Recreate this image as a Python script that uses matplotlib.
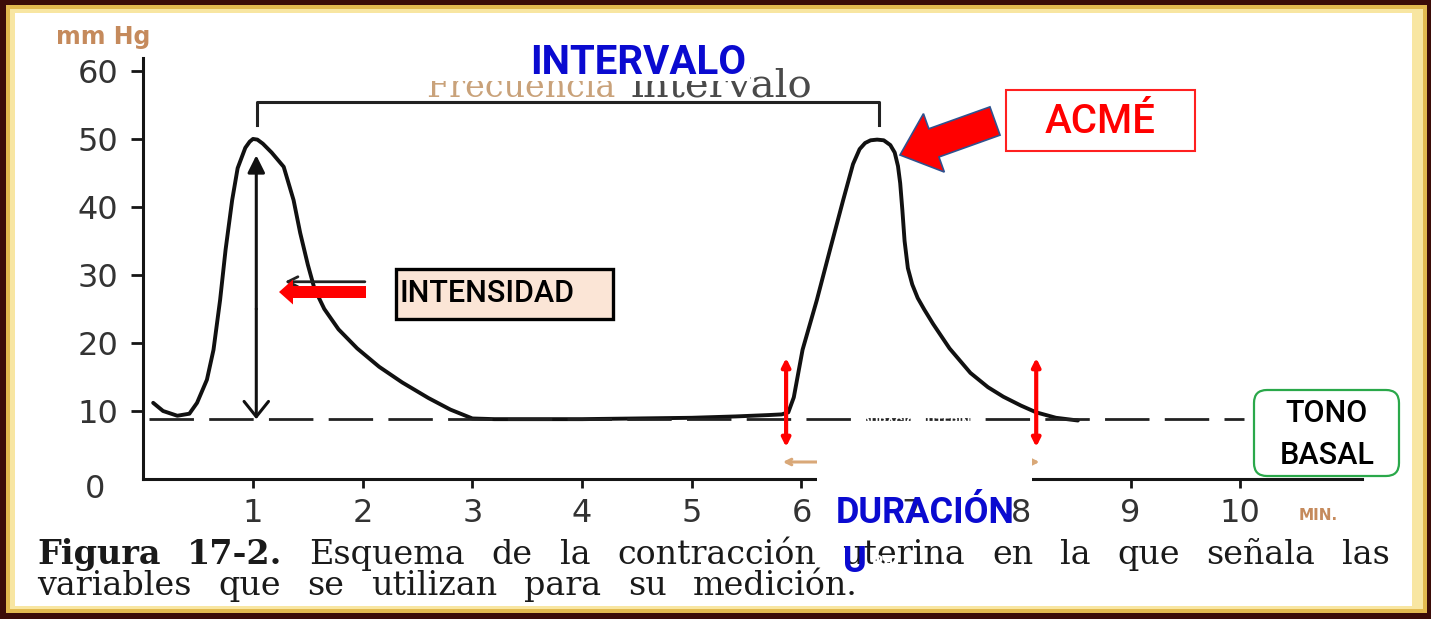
import matplotlib
matplotlib.use("Agg")
import matplotlib.pyplot as plt
from matplotlib.patches import Rectangle, FancyBboxPatch, FancyArrow

plt.rcParams["lines.scale_dashes"] = False

tiempo_min = [0.09, 0.18, 0.31, 0.42, 0.49, 0.58, 0.64, 0.70, 0.75, 0.81, 0.86, 0.93, 0.97,
              1.00, 1.04, 1.09, 1.17, 1.28, 1.37, 1.43, 1.50, 1.56, 1.65, 1.78, 1.95, 2.15,
              2.36, 2.60, 2.80, 3.00, 3.20, 3.60, 4.00, 4.50, 5.00, 5.40, 5.70, 5.82, 5.88,
              5.93, 6.01, 6.14, 6.26, 6.38, 6.47, 6.53, 6.58, 6.63, 6.69, 6.75, 6.81, 6.85,
              6.88, 6.90, 6.92, 6.94, 6.97, 7.01, 7.06, 7.12, 7.20, 7.35, 7.54, 7.70, 7.84,
              8.00, 8.14, 8.32, 8.52]
presion_mmhg = [11.2, 10.0, 9.3, 9.6, 11.2, 14.6, 19.0, 26.3, 33.7, 41.0, 45.7, 48.7, 49.6,
                50.0, 49.9, 49.3, 48.0, 45.9, 41.0, 36.2, 31.5, 28.0, 25.0, 22.0, 19.2, 16.5,
                14.2, 11.9, 10.2, 8.9, 8.8, 8.8, 8.8, 8.9, 9.0, 9.2, 9.4, 9.5, 9.8,
                12.0, 19.0, 26.3, 33.7, 41.0, 46.3, 48.5, 49.4, 49.8, 49.9, 49.8, 49.1, 48.0,
                46.0, 43.5, 39.5, 35.0, 31.0, 28.6, 26.6, 24.9, 22.8, 19.2, 15.6, 13.5, 12.1,
                10.8, 9.8, 9.0, 8.6]

tono_basal = 8.8
basal_x = [0.05, 10.03]
intervalo_x = [1.04, 6.71]
intervalo_y = 55.4
intervalo_pie = 52.1
intensidad_x = 1.03
intensidad_tope = 47.6
duracion_x = [5.86, 8.14]
duracion_y = [4.7, 17.8]
x_ticks = [1, 2, 3, 4, 5, 6, 7, 8, 9, 10]
y_ticks = [10, 20, 30, 40, 50, 60]

pie_linea1 = ["Figura", "17-2.", "Esquema", "de", "la", "contracción", "uterina", "en", "la",
              "que", "señala", "las"]
pie_linea2 = ["variables", "que", "se", "utilizan", "para", "su", "medición."]

W, H = 1431, 619
SANS = "Roboto"
SERIF = "DejaVu Serif"
AZUL = "#0a0ad0"

fig = plt.figure(figsize=(W / 100, H / 100), dpi=100, facecolor="#3b0c08")

# marco dorado
bg = fig.add_axes([0, 0, 1, 1], zorder=0)
bg.set_xlim(0, W)
bg.set_ylim(H, 0)
bg.axis("off")
bg.add_patch(Rectangle((6, 5), 1421, 608, fc="#e2b94f", ec="none"))
bg.add_patch(Rectangle((10, 9), 1413, 600, fc="#f8e6a2", ec="none"))
bg.add_patch(Rectangle((15, 13), 1397, 593, fc="white", ec="none"))

# grafico escaneado
ax = fig.add_axes([143.3 / W, (H - 479) / H, (1362 - 143.3) / W, (479 - 58) / H], zorder=1)
ax.patch.set_alpha(0)
ax.set_xlim(0, 11.11)
ax.set_ylim(0, 61.9)

ax.plot(tiempo_min, presion_mmhg, color="#111111", lw=2.8,
        solid_capstyle="round", solid_joinstyle="round")
ax.plot(basal_x, [tono_basal, tono_basal], color="#222222", lw=2, dashes=(32, 11))

# corchete del intervalo
ax.plot([intervalo_x[0], intervalo_x[0], intervalo_x[1], intervalo_x[1]],
        [intervalo_pie, intervalo_y, intervalo_y, intervalo_pie], color="#222222", lw=2.2)

# flecha de intensidad
ax.annotate("", xy=(intensidad_x, intensidad_tope), xytext=(intensidad_x, 25),
            arrowprops=dict(arrowstyle="-|>", color="#111111", lw=2.2,
                            mutation_scale=26, shrinkA=0, shrinkB=0))
ax.annotate("", xy=(intensidad_x, tono_basal), xytext=(intensidad_x, 25),
            arrowprops=dict(arrowstyle="->,head_length=0.5,head_width=0.4", color="#111111",
                            lw=2.2, mutation_scale=22, shrinkA=0, shrinkB=0))
ax.annotate("", xy=(1.29, 29.0), xytext=(2.02, 29.0),
            arrowprops=dict(arrowstyle="->", color="#222222", lw=2, mutation_scale=18,
                            shrinkA=0, shrinkB=0))

# flechas naranjas de duracion del esquema
ax.annotate("", xy=(5.83, 2.5), xytext=(6.7, 2.5),
            arrowprops=dict(arrowstyle="->", color="#d9a878", lw=2.2, shrinkA=0, shrinkB=0))
ax.annotate("", xy=(8.17, 2.5), xytext=(7.3, 2.5),
            arrowprops=dict(arrowstyle="->", color="#d9a878", lw=2.2, shrinkA=0, shrinkB=0))

# flechas rojas de duracion
for xd in duracion_x:
    ax.annotate("", xy=(xd, duracion_y[1]), xytext=(xd, duracion_y[0]),
                arrowprops=dict(arrowstyle="<|-|>", color="#ff0000", lw=3,
                                mutation_scale=12, shrinkA=0, shrinkB=0))

for s in ["top", "right"]:
    ax.spines[s].set_visible(False)
for s in ["left", "bottom"]:
    ax.spines[s].set_linewidth(2.2)
    ax.spines[s].set_color("#151515")

ax.set_xticks(x_ticks)
ax.set_xticklabels([str(v) for v in x_ticks])
ax.set_yticks(y_ticks)
ax.set_yticklabels([str(v) for v in y_ticks])
ax.tick_params(axis="y", length=9, width=2, pad=9, labelsize=23, labelcolor="#333333",
               color="#151515")
ax.tick_params(axis="x", length=6.5, width=2, pad=7, labelsize=23, labelcolor="#333333",
               color="#151515")
ax.text(-0.35, -1.6, "0", ha="right", va="center", fontsize=23, color="#333333", clip_on=False)

# capa de anotaciones en pixeles
fg = fig.add_axes([0, 0, 1, 1], zorder=2)
fg.set_xlim(0, W)
fg.set_ylim(H, 0)
fg.axis("off")

fg.text(103, 37, "mm Hg", ha="center", va="center", fontsize=17, fontweight="bold",
        color="#c58a5c", zorder=1)
fg.text(1318, 515, "MIN.", ha="center", va="center", fontsize=11, fontweight="bold",
        color="#c58a5c", zorder=1)

fg.text(616, 97, "Frecuencia", ha="right", fontfamily=SERIF, fontsize=24, color="#c9a27a",
        va="baseline", zorder=1)
fg.text(630, 97, "intervalo", ha="left", fontfamily=SERIF, fontsize=29, color="#4a4a4a",
        va="baseline", zorder=1)


def linea_justificada(palabras, x0, x1, y, fs, n_negrita=0):
    objs = []
    for i, p in enumerate(palabras):
        objs.append(fg.text(x0, y, p, fontfamily=SERIF, fontsize=fs, color="#1a1a1a",
                            fontweight="bold" if i < n_negrita else "normal",
                            va="baseline", zorder=1))
    r = fig.canvas.get_renderer()
    anchos = [t.get_window_extent(r).width for t in objs]
    hueco = (x1 - x0 - sum(anchos)) / (len(objs) - 1)
    x = x0
    for t, a in zip(objs, anchos):
        t.set_x(x)
        x += a + hueco


# pie de figura
linea_justificada(pie_linea1, 37, 1390, 564, 24, n_negrita=2)
linea_justificada(pie_linea2, 37, 858, 595, 24)

# INTERVALO
fg.add_patch(Rectangle((425, 50), 325, 31, fc="white", ec="none", zorder=2))
fg.text(638, 63, "INTERVALO", ha="center", va="center", fontfamily=SANS, fontsize=29,
        fontweight="bold", color=AZUL, zorder=4)

# ACME
fg.add_patch(Rectangle((1006, 90), 189, 61, fc="white", ec="#ff2020", lw=1.5, zorder=3))
fg.text(1100, 122, "ACMÉ", ha="center", va="center", fontfamily=SANS, fontsize=29,
        fontweight="medium", color="#ff0000", zorder=4)
fg.add_patch(FancyArrow(995, 121, -95, 34, width=30, head_width=62, head_length=36,
                        length_includes_head=True, fc="#ff0000", ec="#2f528f", lw=1.2,
                        zorder=3))

# INTENSIDAD
fg.add_patch(Rectangle((396, 269), 217, 50, fc="#fbe5d6", ec="black", lw=2.4, zorder=3))
fg.text(399, 294, "INTENSIDAD", ha="left", va="center", fontfamily=SANS, fontsize=22,
        fontweight="medium", color="black", zorder=4)
fg.add_patch(FancyArrow(366, 292, -87, 0, width=12, head_width=25, head_length=14,
                        length_includes_head=True, fc="#ff0000", ec="none", zorder=3))

# TONO BASAL
fg.add_patch(FancyBboxPatch((1254, 390), 145, 86, boxstyle="round,pad=0,rounding_size=13",
                            fc="white", ec="#2aa84a", lw=1.6, zorder=3))
fg.text(1327, 413, "TONO", ha="center", va="center", fontfamily=SANS, fontsize=22,
        fontweight="medium", color="black", zorder=4)
fg.text(1327, 455, "BASAL", ha="center", va="center", fontfamily=SANS, fontsize=22,
        fontweight="medium", color="black", zorder=4)

# DURACION
fg.text(920, 423, "DURACIÓN UTERINA", ha="center", va="center", fontfamily=SANS,
        fontsize=9, fontweight="bold", color="white", zorder=2)
fg.add_patch(Rectangle((817, 445), 215, 47, fc="white", ec="none", zorder=2))
fg.text(925, 513, "DURACIÓN", ha="center", va="center", fontfamily=SANS, fontsize=26,
        fontweight="bold", color=AZUL, zorder=4)
fg.text(843, 562, "U", ha="left", va="center", fontfamily=SANS, fontsize=26,
        fontweight="bold", color=AZUL, zorder=4)
fg.text(872, 563, "RA", ha="left", va="center", fontfamily=SANS, fontsize=13,
        fontweight="bold", color="white", zorder=4)

fig.savefig("out.png", dpi=100, facecolor=fig.get_facecolor())
